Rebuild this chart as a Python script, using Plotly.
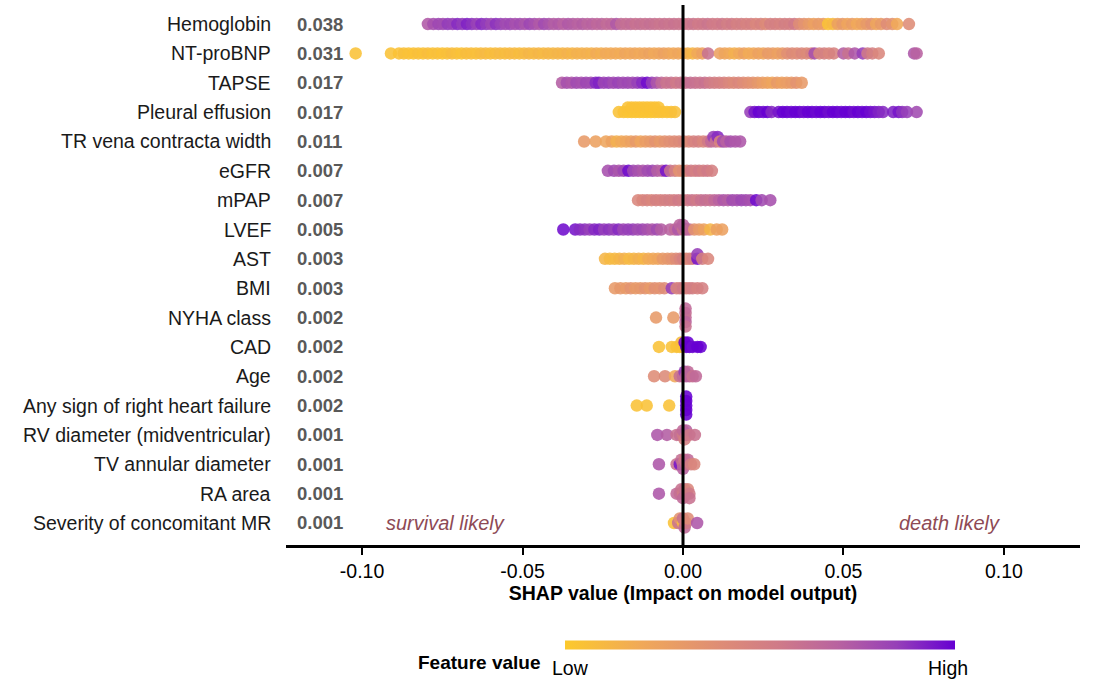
import plotly.graph_objects as go

features = ["Hemoglobin", "NT-proBNP", "TAPSE", "Pleural effusion", "TR vena contracta width",
            "eGFR", "mPAP", "LVEF", "AST", "BMI", "NYHA class", "CAD", "Age",
            "Any sign of right heart failure", "RV diameter (midventricular)",
            "TV annular diameter", "RA area", "Severity of concomitant MR"]
importance = ["0.038", "0.031", "0.017", "0.017", "0.011", "0.007", "0.007", "0.005", "0.003",
              "0.003", "0.002", "0.002", "0.002", "0.002", "0.001", "0.001", "0.001", "0.001"]

tick_vals = [-0.10, -0.05, 0.00, 0.05, 0.10]
tick_text = ["-0.10", "-0.05", "0.00", "0.05", "0.10"]

# SHAP values (x) and normalised feature values (c: 0 = low, 1 = high)
hgb_x = [-0.0795, -0.0778, -0.0762, -0.0748, -0.0733, -0.0718, -0.0703, -0.0688, -0.0673, -0.0658,
         -0.0643, -0.0628, -0.0613, -0.0598, -0.0583, -0.0568, -0.0553,
         -0.0538, -0.0523, -0.0508, -0.0493, -0.0478, -0.0463, -0.0448, -0.0433, -0.0418, -0.0403,
         -0.0388, -0.0373, -0.0358, -0.0343, -0.0328, -0.0313, -0.0298,
         -0.0283, -0.0268, -0.0253, -0.0238, -0.0223, -0.0208, -0.0193, -0.0178, -0.0163, -0.0148,
         -0.0133, -0.0118, -0.0103, -0.0088, -0.0073, -0.0058, -0.0043, -0.0028, -0.0013,
         0.0002, 0.0017, 0.0032, 0.0047, 0.0062, 0.0077, 0.0092, 0.0107, 0.0122, 0.0137,
         0.0152, 0.0167, 0.0182, 0.0197, 0.0212, 0.0227, 0.0242, 0.0257, 0.0272,
         0.0287, 0.0302, 0.0317, 0.0332, 0.0347, 0.0362, 0.0377, 0.0392, 0.0407, 0.0422,
         0.0437, 0.0452, 0.0467, 0.0482, 0.0497, 0.0512, 0.0527, 0.0542, 0.0557, 0.0572,
         0.0587, 0.0602, 0.0617, 0.0635, 0.0652, 0.0667, 0.0704]
hgb_c = [0.74, 0.78, 0.82, 0.8, 0.86, 0.84, 0.9, 0.86, 0.92, 0.88,
         0.84, 0.9, 0.86, 0.82, 0.88, 0.84, 0.8,
         0.82, 0.78, 0.8, 0.76, 0.82, 0.78, 0.74, 0.8, 0.76, 0.72,
         0.74, 0.7, 0.74, 0.72, 0.7, 0.72, 0.68,
         0.7, 0.66, 0.68, 0.64, 0.66, 0.74, 0.64, 0.62, 0.64, 0.6,
         0.62, 0.6, 0.62, 0.6, 0.58, 0.6, 0.58, 0.6, 0.58,
         0.58, 0.56, 0.58, 0.55, 0.56, 0.58, 0.55, 0.54, 0.56, 0.52,
         0.55, 0.5, 0.52, 0.48, 0.5, 0.45, 0.48, 0.42, 0.5,
         0.5, 0.48, 0.52, 0.5, 0.55, 0.4, 0.35, 0.3, 0.25, 0.3,
         0.28, 0.05, 0.1, 0.25, 0.3, 0.22, 0.28, 0.2, 0.25, 0.3,
         0.35, 0.22, 0.3, 0.4, 0.35, 0.2, 0.4]

ntp_x = [-0.102, -0.091,
         -0.0885, -0.087, -0.0855, -0.084, -0.0825, -0.081, -0.0795, -0.078, -0.0765, -0.075,
         -0.0735, -0.072, -0.0705, -0.069, -0.0675, -0.066, -0.0645, -0.063, -0.0615, -0.060,
         -0.0585, -0.057, -0.0555, -0.054, -0.0525, -0.051, -0.0495, -0.048, -0.0465,
         -0.045, -0.0435, -0.042, -0.0405, -0.039, -0.0375, -0.036, -0.0345, -0.033, -0.0315,
         -0.030, -0.0285, -0.027, -0.0255, -0.024, -0.0225, -0.021, -0.0195, -0.018, -0.0165,
         -0.015, -0.0135, -0.012, -0.0105, -0.009, -0.0075, -0.006, -0.0045, -0.003, -0.0015,
         0.0, 0.0015, 0.003, 0.0045, 0.006, 0.0078, 0.0115, 0.013, 0.0145, 0.016,
         0.0175, 0.019, 0.0205, 0.022, 0.0235, 0.025, 0.0265, 0.028, 0.0295, 0.031,
         0.0325, 0.034, 0.0355, 0.037, 0.0385, 0.040, 0.041, 0.0425, 0.044, 0.0455, 0.047,
         0.050, 0.0515, 0.0535, 0.056, 0.0575, 0.059, 0.061, 0.072, 0.0728]
ntp_c = [0.05, 0.05,
         0.04, 0.06, 0.05, 0.04, 0.06, 0.05, 0.07, 0.05, 0.06, 0.04,
         0.06, 0.08, 0.06, 0.05, 0.08, 0.07, 0.06, 0.08, 0.1, 0.07,
         0.08, 0.1, 0.08, 0.09, 0.1, 0.08, 0.1, 0.12, 0.1,
         0.12, 0.1, 0.12, 0.11, 0.13, 0.12, 0.14, 0.12, 0.15, 0.14,
         0.16, 0.14, 0.18, 0.16, 0.2, 0.18, 0.2, 0.18, 0.22, 0.2,
         0.22, 0.2, 0.22, 0.24, 0.2, 0.22, 0.25, 0.22, 0.2, 0.22,
         0.2, 0.15, 0.12, 0.2, 0.25, 0.6, 0.25, 0.22, 0.2, 0.15,
         0.2, 0.25, 0.18, 0.2, 0.25, 0.22, 0.3, 0.28, 0.25, 0.3,
         0.38, 0.42, 0.4, 0.45, 0.42, 0.48, 0.78, 0.45, 0.5, 0.45, 0.48,
         0.72, 0.6, 0.75, 0.85, 0.55, 0.5, 0.45, 0.75, 0.7]

tap_x = [-0.0377, -0.0362, -0.0347, -0.0332, -0.0317, -0.0302, -0.0287, -0.0272, -0.0262, -0.0247,
         -0.0232, -0.0217, -0.0202, -0.0187, -0.0172, -0.0157, -0.0142, -0.0127, -0.0112, -0.0097,
         -0.0082, -0.0067, -0.0052, -0.0037, -0.0022, -0.0007, 0.0008, 0.0023, 0.0038, 0.0053,
         0.0068, 0.0083, 0.0098, 0.0113, 0.0128, 0.0143, 0.0158, 0.0173, 0.0188, 0.0203,
         0.0218, 0.0233, 0.0248, 0.0263, 0.0278, 0.0293, 0.0308, 0.0323, 0.0338, 0.0353, 0.037]
tap_c = [0.72, 0.78, 0.75, 0.8, 0.78, 0.82, 0.8, 0.9, 0.92, 0.82,
         0.85, 0.8, 0.84, 0.8, 0.82, 0.8, 0.85, 0.9, 0.97, 0.85,
         0.75, 0.65, 0.58, 0.6, 0.55, 0.58, 0.6, 0.62, 0.6, 0.58,
         0.6, 0.55, 0.52, 0.5, 0.48, 0.45, 0.42, 0.45, 0.4, 0.38,
         0.35, 0.32, 0.28, 0.25, 0.22, 0.3, 0.25, 0.28, 0.3, 0.35, 0.3]

pe_x = [-0.0200, -0.0185, -0.0172, -0.0172, -0.0160, -0.0160, -0.0148, -0.0148, -0.0136, -0.0136,
        -0.0124, -0.0124, -0.0112, -0.0112, -0.0100, -0.0100, -0.0088, -0.0088, -0.0076, -0.0076,
        -0.0064, -0.0050, -0.0037, -0.0025,
        0.0210, 0.0223, 0.0236, 0.0250, 0.0263, 0.0276, 0.0298, 0.0311, 0.0324, 0.0337,
        0.0350, 0.0363, 0.0376, 0.0389, 0.0402, 0.0415, 0.0428, 0.0441, 0.0454, 0.0467,
        0.0480, 0.0493, 0.0506, 0.0519, 0.0532, 0.0545, 0.0558, 0.0571, 0.0584, 0.0597,
        0.0610, 0.0623, 0.0655, 0.0672, 0.0683, 0.0698, 0.0728]
pe_c = [0.05, 0.04, 0.03, 0.04, 0.03, 0.04, 0.03, 0.04, 0.03, 0.04,
        0.03, 0.04, 0.03, 0.05, 0.03, 0.04, 0.03, 0.04, 0.05, 0.04,
        0.05, 0.04, 0.05, 0.06,
        0.85, 0.95, 1.0, 0.97, 1.0, 0.9, 0.95, 1.0, 1.0, 0.98,
        1.0, 1.0, 0.97, 1.0, 1.0, 0.98, 1.0, 1.0, 0.97, 1.0,
        1.0, 0.98, 1.0, 1.0, 0.97, 1.0, 0.98, 1.0, 0.97, 0.95,
        0.92, 0.9, 0.92, 0.95, 0.88, 0.85, 0.8]

tr_x = [-0.0308, -0.0272, -0.0240, -0.0222, -0.0207, -0.0192, -0.0177, -0.0162, -0.0147, -0.0132,
        -0.0117, -0.0102, -0.0087, -0.0072, -0.0057, -0.0042, -0.0027, -0.0012, 0.0003, 0.0018,
        0.0033, 0.0048, 0.0063, 0.0078, 0.0088, 0.0095, 0.0102, 0.0108, 0.0115, 0.0125,
        0.0135, 0.0148, 0.0163, 0.0178]
tr_c = [0.3, 0.25, 0.22, 0.25, 0.15, 0.2, 0.22, 0.25, 0.3, 0.22,
        0.28, 0.3, 0.35, 0.3, 0.35, 0.38, 0.4, 0.42, 0.45, 0.42,
        0.48, 0.5, 0.45, 0.55, 0.65, 0.85, 0.6, 0.9, 0.45, 0.8,
        0.7, 0.78, 0.75, 0.75]

eg_x = [-0.0234, -0.0215, -0.0200, -0.0185, -0.0170, -0.0155, -0.0140, -0.0125, -0.0110, -0.0095,
        -0.0080, -0.0065, -0.0053, -0.0040, -0.0025, -0.0012, 0.0, 0.0012, 0.0025, 0.0038,
        0.0050, 0.0063, 0.0076, 0.0090]
eg_c = [0.78, 0.8, 0.76, 0.82, 0.97, 0.8, 0.78, 0.75, 0.8, 0.82,
        0.72, 0.7, 0.95, 0.6, 0.5, 0.35, 0.4, 0.45, 0.55, 0.5,
        0.55, 0.5, 0.55, 0.5]

mp_x = [-0.0140, -0.0126, -0.0112, -0.0098, -0.0084, -0.0070, -0.0056, -0.0042, -0.0028, -0.0014,
        0.0, 0.0014, 0.0028, 0.0042, 0.0056, 0.0070, 0.0084, 0.0098, 0.0112, 0.0126,
        0.0140, 0.0154, 0.0168, 0.0182, 0.0196, 0.0210, 0.0228, 0.0245, 0.0272]
mp_c = [0.45, 0.45, 0.48, 0.45, 0.5, 0.48, 0.5, 0.52, 0.5, 0.55,
        0.52, 0.55, 0.58, 0.55, 0.6, 0.62, 0.6, 0.65, 0.7, 0.75,
        0.72, 0.8, 0.78, 0.82, 0.8, 0.78, 0.97, 0.8, 0.78]

lv_x = [-0.0373, -0.0336, -0.0321, -0.0306, -0.0291, -0.0276, -0.0261, -0.0246, -0.0231, -0.0216,
        -0.0201, -0.0186, -0.0171, -0.0156, -0.0141, -0.0126, -0.0111, -0.0096, -0.0081, -0.0068,
        -0.004, -0.0025, -0.0015, -0.001, 0.0, 0.0, 0.001, 0.002,
        0.0035, 0.005, 0.0065, 0.0085, 0.0105, 0.0122]
lv_c = [0.97, 0.95, 0.9, 0.88, 0.85, 0.9, 0.92, 0.85, 0.88, 0.85,
        0.9, 0.82, 0.85, 0.85, 0.8, 0.82, 0.78, 0.75, 0.8, 0.72,
        0.7, 0.65, 0.75, 0.68, 0.6, 0.7, 0.72, 0.65,
        0.35, 0.3, 0.25, 0.12, 0.25, 0.25]

ast_x = [-0.0243, -0.0228, -0.0213, -0.0198, -0.0183, -0.0168, -0.0153, -0.0138, -0.0123, -0.0108,
         -0.0093, -0.0078, -0.0063, -0.0048, -0.0035, -0.0022, -0.001, 0.0, 0.001, 0.002,
         0.003, 0.0045, 0.0045, 0.006, 0.0078]
ast_c = [0.12, 0.1, 0.1, 0.12, 0.15, 0.1, 0.12, 0.15, 0.12, 0.18,
         0.2, 0.22, 0.3, 0.32, 0.35, 0.4, 0.45, 0.5, 0.4, 0.45,
         0.5, 0.95, 0.85, 0.5, 0.45]

bmi_x = [-0.0212, -0.0195, -0.0178, -0.0163, -0.0148, -0.0133, -0.0118, -0.0103, -0.0088, -0.0073,
         -0.0058, -0.0035, -0.002, -0.001, 0.0, 0.001, 0.002, 0.003, 0.0045, 0.006]
bmi_c = [0.3, 0.32, 0.3, 0.35, 0.3, 0.32, 0.35, 0.3, 0.38, 0.35,
         0.4, 0.85, 0.45, 0.5, 0.55, 0.45, 0.5, 0.52, 0.48, 0.5]

ny_x = [-0.0084, -0.003, 0.0008, 0.0008, 0.0008, 0.0008, 0.0008]
ny_c = [0.3, 0.3, 0.65, 0.62, 0.68, 0.65, 0.6]

cad_x = [-0.0075, -0.0035, -0.002, -0.001, -0.0005, 0.0, 0.0005, 0.001, 0.0015, 0.002, 0.003, 0.0045, 0.0055]
cad_c = [0.05, 0.05, 0.05, 0.05, 0.08, 0.05, 0.98, 1.0, 1.0, 1.0, 0.98, 1.0, 1.0]

age_x = [-0.009, -0.0056, -0.0025, -0.001, 0.0, 0.0005, 0.001, 0.0015, 0.002, 0.003, 0.004]
age_c = [0.4, 0.42, 0.2, 0.6, 0.65, 0.85, 0.7, 0.65, 0.68, 0.6, 0.65]

any_x = [-0.0144, -0.0113, -0.0043, 0.001, 0.001, 0.001, 0.001, 0.001]
any_c = [0.05, 0.05, 0.05, 1.0, 1.0, 1.0, 1.0, 1.0]

rv_x = [-0.008, -0.005, -0.002, -0.001, 0.0, 0.0, 0.0005, 0.001, 0.001, 0.002, 0.0037]
rv_c = [0.75, 0.72, 0.6, 0.62, 0.55, 0.65, 0.5, 0.6, 0.7, 0.55, 0.6]

tv_x = [-0.0075, -0.002, -0.001, -0.0005, 0.0, 0.0, 0.0005, 0.001, 0.0015, 0.0025, 0.0035]
tv_c = [0.75, 0.6, 0.95, 0.62, 0.6, 0.7, 0.55, 0.6, 0.65, 0.5, 0.45]

ra_x = [-0.0075, -0.002, -0.001, -0.0005, 0.0, 0.0, 0.0005, 0.001, 0.0015, 0.002, 0.002]
ra_c = [0.75, 0.65, 0.62, 0.6, 0.55, 0.65, 0.6, 0.62, 0.45, 0.55, 0.6]

mr_x = [-0.0028, -0.0015, -0.001, 0.0, 0.0, 0.0005, 0.001, 0.0015, 0.0044]
mr_c = [0.05, 0.6, 0.35, 0.1, 0.6, 0.65, 0.55, 0.4, 0.75]

rows_x = [hgb_x, ntp_x, tap_x, pe_x, tr_x, eg_x, mp_x, lv_x, ast_x, bmi_x,
          ny_x, cad_x, age_x, any_x, rv_x, tv_x, ra_x, mr_x]
rows_c = [hgb_c, ntp_c, tap_c, pe_c, tr_c, eg_c, mp_c, lv_c, ast_c, bmi_c,
          ny_c, cad_c, age_c, any_c, rv_c, tv_c, ra_c, mr_c]

# ---- layout geometry ----
W, H = 1100, 696
M = dict(l=286, r=20, t=5, b=151, pad=0)
XR = [-0.1237, 0.1237]
n = len(features)
YR = [-0.75, n - 1 + 0.65]
px_per_x = (W - M["l"] - M["r"]) / (XR[1] - XR[0])
px_per_row = (H - M["t"] - M["b"]) / (YR[1] - YR[0])


def swarm(xs, step=4.5, mind=2.5, maxoff=9.0):
    """Beeswarm offsets (in row units) so coincident points stack vertically."""
    cands = [0.0]
    k = 1
    while k * step <= maxoff + 1e-9:
        cands += [k * step, -k * step]
        k += 1
    placed, out = [], []
    for x in xs:
        p = x * px_per_x
        best, bestd = 0.0, -1.0
        for c in cands:
            d = min([((p - q) ** 2 + (c - r) ** 2) ** 0.5 for q, r in placed] or [1e9])
            if d >= mind - 1e-9:
                best = c
                break
            if d > bestd:
                bestd, best = d, c
        placed.append((p, best))
        out.append(best / px_per_row)
    return out


all_x, all_y, all_c = [], [], []
for i, (xs, cs) in enumerate(zip(rows_x, rows_c)):
    base = n - 1 - i
    offs = swarm(xs)
    for x, c, o in zip(xs, cs, offs):
        all_x.append(x)
        all_y.append(base + o)
        all_c.append(c)

colorscale = [[0.0, "#FCC92C"], [0.2, "#F0A859"], [0.4, "#DE8C76"], [0.55, "#CF7A88"],
              [0.7, "#B862A0"], [0.85, "#9640B8"], [1.0, "#6600D2"]]

plot_w = W - M["l"] - M["r"]
plot_h = H - M["t"] - M["b"]

fig = go.Figure()
fig.add_trace(go.Scatter(
    x=all_x, y=all_y, mode="markers",
    marker=dict(size=12.5, color=all_c, colorscale=colorscale, cmin=0, cmax=1,
                opacity=0.88, line=dict(width=0),
                showscale=True,
                colorbar=dict(orientation="h", lenmode="pixels", len=410,
                              thickness=9, x=(760 - M["l"]) / plot_w, xanchor="center",
                              y=(H - M["b"] - 645) / plot_h, yanchor="middle",
                              outlinewidth=0, showticklabels=False, ticks="")),
    hoverinfo="skip", showlegend=False))

FONT = "Liberation Sans, Arial, sans-serif"
ann = []
for i, (name, imp) in enumerate(zip(features, importance)):
    yv = n - 1 - i
    ann.append(dict(x=(273 - M["l"]) / plot_w, xref="paper", y=yv, yref="y",
                    text=name, showarrow=False, xanchor="right", yanchor="middle",
                    font=dict(family=FONT, size=19.5, color="#1a1a1a")))
    ann.append(dict(x=(295 - M["l"]) / plot_w, xref="paper", y=yv, yref="y",
                    text="<b>" + imp + "</b>", showarrow=False, xanchor="left", yanchor="middle",
                    font=dict(family=FONT, size=18.5, color="#595959")))

ann.append(dict(x=-0.0741, xref="x", y=0, yref="y", text="<i>survival likely</i>",
                showarrow=False, font=dict(family=FONT, size=20, color="#8E4A55")))
ann.append(dict(x=0.0829, xref="x", y=0, yref="y", text="<i>death likely</i>",
                showarrow=False, font=dict(family=FONT, size=20, color="#8E4A55")))
ann.append(dict(x=(543 - M["l"]) / plot_w, xref="paper", y=(H - M["b"] - 662) / plot_h, yref="paper",
                text="<b>Feature value</b>", showarrow=False, xanchor="right", yanchor="middle",
                font=dict(family=FONT, size=19, color="black")))
ann.append(dict(x=(550 - M["l"]) / plot_w, xref="paper", y=(H - M["b"] - 668) / plot_h, yref="paper",
                text="Low", showarrow=False, xanchor="left", yanchor="middle",
                font=dict(family=FONT, size=19.5, color="black")))
ann.append(dict(x=(970 - M["l"]) / plot_w, xref="paper", y=(H - M["b"] - 668) / plot_h, yref="paper",
                text="High", showarrow=False, xanchor="right", yanchor="middle",
                font=dict(family=FONT, size=19.5, color="black")))

fig.add_shape(type="line", x0=0, x1=0, y0=YR[0], y1=YR[1], xref="x", yref="y",
              line=dict(color="black", width=3), layer="above")

fig.update_layout(
    width=W, height=H, margin=M,
    paper_bgcolor="white", plot_bgcolor="white",
    font=dict(family=FONT, color="black"),
    annotations=ann,
    xaxis=dict(range=XR, tickvals=tick_vals, ticktext=tick_text,
               showgrid=False, zeroline=False, showline=True, linecolor="black", linewidth=3,
               ticks="outside", ticklen=7, tickwidth=2, tickcolor="black",
               tickfont=dict(family=FONT, size=19.5, color="black"),
               title=dict(text="<b>SHAP value (Impact on model output)</b>",
                          font=dict(family=FONT, size=19.5, color="black"), standoff=4),
               automargin=False, fixedrange=True),
    yaxis=dict(range=YR, showgrid=False, zeroline=False, showline=False,
               showticklabels=False, ticks="", automargin=False, fixedrange=True),
)

# remove the browser's default 8px page margin so the figure sits at the window origin
fig.write_html("out.html", config={"displayModeBar": False},
               post_script="document.body.style.margin='0';")
